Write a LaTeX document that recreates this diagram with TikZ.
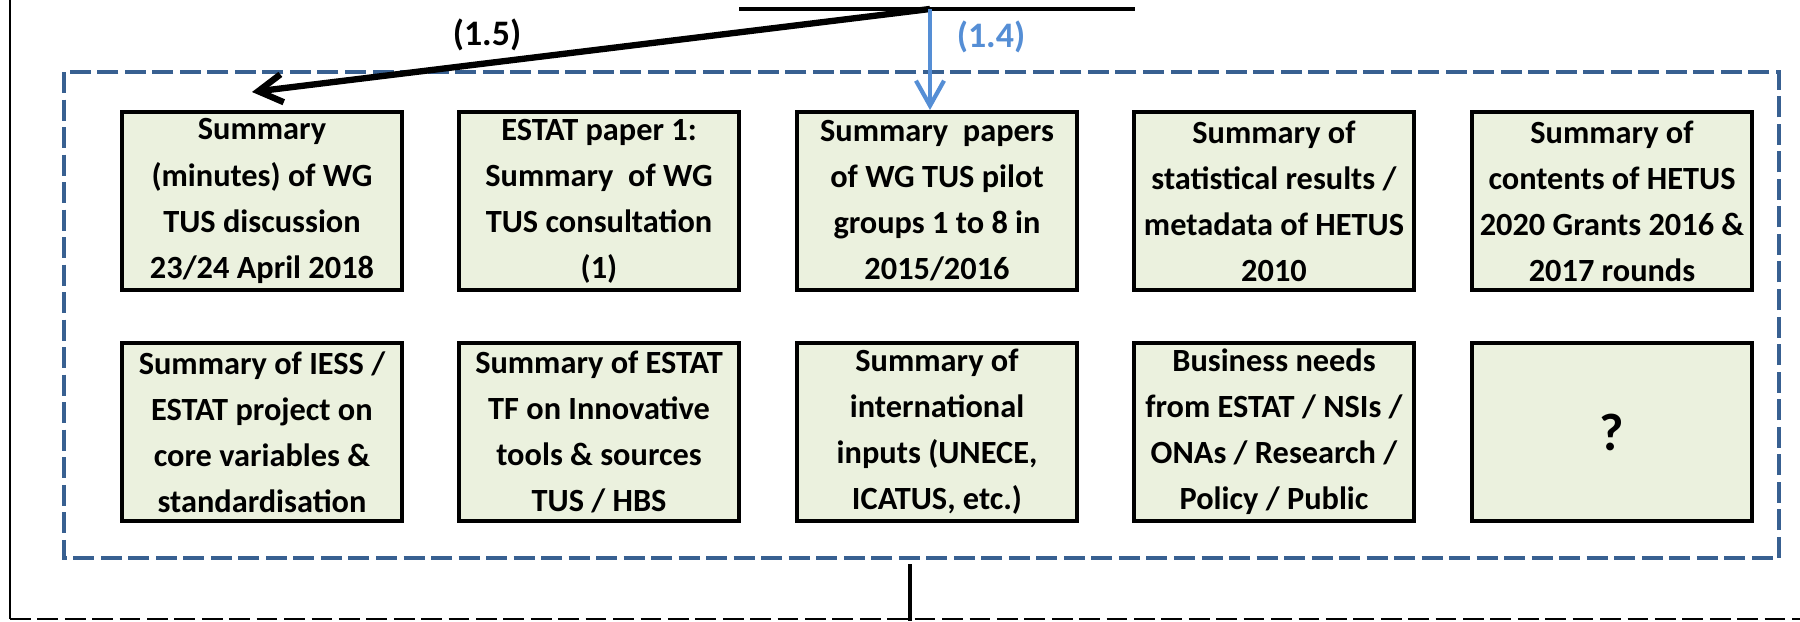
\documentclass[tikz,border=0pt]{standalone}
\usepackage{fontspec}
\setmainfont{Carlito}
\usetikzlibrary{arrows.meta}
\definecolor{boxfill}{RGB}{235,241,222}
\definecolor{frameblue}{RGB}{56,96,145}
\definecolor{linkblue}{RGB}{85,142,213}
\begin{document}
\begin{tikzpicture}[x=0.01cm,y=-0.01cm,
  item/.style={draw,line width=1.1pt,fill=boxfill,align=center,inner sep=0pt,
    minimum width=2.8cm,minimum height=1.78cm,font=\fontsize{9.2}{13.1}\selectfont\bfseries},
  tag/.style={font=\fontsize{10.2}{12}\selectfont\bfseries}]
\useasboundingbox (0,0) rectangle (1800,621);
% outer lines
\draw[line width=0.8pt] (10,0) -- (10,619);
\draw[line width=0.6pt,dash pattern=on 0.207cm off 0.067cm] (10,619) -- (1800,619);
\draw[line width=0.9pt] (739,9) -- (1135,9);
\coordinate (hub) at (930,9);
\coordinate (tip) at (252,92);
% dashed frame
\draw[frameblue,line width=1.4pt,dash pattern=on 0.21cm off 0.065cm] (64,72) rectangle (1779,558);
\draw[line width=1.2pt] (910,564) -- (910,621);
% first row
\node[item] (b1) at (262,201) {Summary\\(minutes) of WG\\TUS discussion\\23/24 April 2018};
\node[item] (b2) at (599,201) {ESTAT paper 1:\\Summary\ \ of WG\\TUS consultation\\(1)};
\node[item] (b3) at (937,201) {Summary\ \ papers\\of WG TUS pilot\\groups 1 to 8 in\\2015/2016};
\node[item] (b4) at (1274,201) {Summary of\\statistical results /\\metadata of HETUS\\2010};
\node[item] (b5) at (1612,201) {Summary of\\contents of HETUS\\2020 Grants 2016 \&\\2017 rounds};
% second row
\node[item] (b6) at (262,432) {Summary of IESS /\\ESTAT project on\\core variables \&\\standardisation};
\node[item] (b7) at (599,432) {Summary of ESTAT\\TF on Innovative\\tools \& sources\\TUS / HBS};
\node[item] (b8) at (937,432) {Summary of\\international\\inputs (UNECE,\\ICATUS, etc.)};
\node[item] (b9) at (1274,432) {Business needs\\from ESTAT / NSIs /\\ONAs / Research /\\Policy / Public};
\node[item,font=\fontsize{15}{18}\selectfont\bfseries] (b10) at (1612,432) {?};
% arrows
\draw[line width=1.8pt,-{Straight Barb[length=2.4mm,width=2.8mm]}] (hub) -- (tip);
\draw[linkblue,line width=1.2pt,-{Straight Barb[length=2.5mm,width=2.8mm]}] (hub) -- (hub |- b3.north);
\node[tag] (l15) at (487,35) {(1.5)};
\node[tag,text=linkblue] (l14) at (991,37) {(1.4)};
\end{tikzpicture}
\end{document}
